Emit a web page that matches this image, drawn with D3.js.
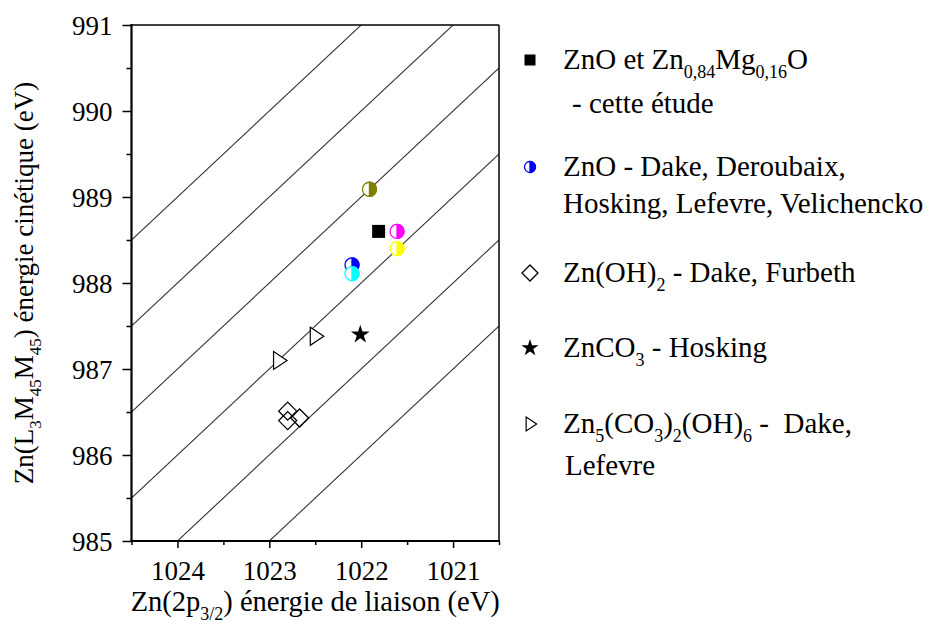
<!DOCTYPE html>
<html><head><meta charset="utf-8">
<script src="https://cdn.jsdelivr.net/npm/d3@7"></script>
<style>body{margin:0;background:#fff}svg{display:block}svg text{font-family:'Liberation Serif','Tinos','DejaVu Serif',serif !important;fill:#000}</style>
</head><body><svg id="c" width="930" height="626"></svg>
<script>
// ---- data ----
const xTicks = [1024, 1023, 1022, 1021];
const yTicks = [985, 986, 987, 988, 989, 990, 991];
const augerSums = [2008, 2009, 2010, 2011, 2012, 2013];
// this study
const oursBE = [1021.81];
const oursKE = [988.60];
// ZnO literature (half-filled circles)
const znoBE = [1021.91, 1021.61, 1021.61, 1022.10, 1022.10];
const znoKE = [989.09, 988.60, 988.40, 988.21, 988.11];
const znoColors = ["#808000", "#ff00ff", "#ffff00", "#0000ff", "#00ffff"];
// Zn(OH)2
const hydBE = [1022.80, 1022.80, 1022.67];
const hydKE = [986.51, 986.40, 986.43];
// ZnCO3
const carbBE = [1022.01];
const carbKE = [987.40];
// Zn5(CO3)2(OH)6
const hzBE = [1022.90, 1022.50];
const hzKE = [987.10, 987.38];

const svg = d3.select("#c");
const L = 131.5, R = 499, T = 25, B = 541;
const x = d3.scaleLinear().domain([1024.5, 1020.5]).range([L, R]);
const y = d3.scaleLinear().domain([985, 991]).range([B, T]);

svg.append("clipPath").attr("id","pc").append("rect").attr("x",L).attr("y",T).attr("width",R-L).attr("height",B-T);

// auger parameter lines
const gl = svg.append("g").attr("clip-path","url(#pc)");
augerSums.forEach(s => {
  const b0 = 1025, b1 = 1020;
  gl.append("line").attr("x1",x(b0)).attr("y1",y(s-b0)).attr("x2",x(b1)).attr("y2",y(s-b1))
    .attr("stroke","#333").attr("stroke-width",1.1);
});

// axes
const fs = 27;
const xAxis = d3.axisBottom(x).tickValues(xTicks).tickFormat(d3.format("d")).tickSize(7).tickPadding(13);
const gx = svg.append("g").attr("transform",`translate(0,${B})`).call(xAxis);
const xMinor = d3.axisBottom(x).tickValues([1024.5,1023.5,1022.5,1021.5,1020.5]).tickFormat("").tickSize(4);
svg.append("g").attr("transform",`translate(0,${B})`).call(xMinor);
const yAxis = d3.axisLeft(y).tickValues(yTicks).tickFormat(d3.format("d")).tickSize(9).tickPadding(10);
const gy = svg.append("g").attr("transform",`translate(${L},0)`).call(yAxis);
gy.selectAll("text").attr("dy","0.34em");
const yMinor = d3.axisLeft(y).tickValues([985.5,986.5,987.5,988.5,989.5,990.5]).tickFormat("").tickSize(5);
svg.append("g").attr("transform",`translate(${L},0)`).call(yMinor);
svg.selectAll("g").attr("font-family",null).attr("font-size",null);
svg.selectAll(".tick text").style("font-size",fs+"px");
svg.selectAll(".domain").remove();
svg.selectAll(".tick line").attr("stroke","#000").attr("stroke-width",1.5);
// frame
svg.append("line").attr("x1",L).attr("x2",R).attr("y1",T).attr("y2",T).attr("stroke","#000").attr("stroke-width",1.5);
svg.append("line").attr("x1",R).attr("x2",R).attr("y1",T).attr("y2",B).attr("stroke","#000").attr("stroke-width",1.5);
svg.append("line").attr("x1",L).attr("x2",L).attr("y1",T-1).attr("y2",B+1).attr("stroke","#000").attr("stroke-width",2.2);
svg.append("line").attr("x1",L-1).attr("x2",R+1).attr("y1",B).attr("y2",B).attr("stroke","#000").attr("stroke-width",2.2);

// rich text helper
function rich(sel, segs, size){
  const sub = Math.round(size*0.62), sh = Math.round(size*0.3);
  let shifted = false;
  segs.forEach(([t, isSub]) => {
    const ts = sel.append("tspan").text(t);
    if (isSub && !shifted){ ts.attr("dy",sh).style("font-size",sub+"px"); shifted = true; }
    else if (isSub) { ts.style("font-size",sub+"px"); }
    else if (!isSub && shifted){ ts.attr("dy",-sh); shifted = false; }
  });
}

// axis titles
const xt = svg.append("text").attr("x",(L+R)/2).attr("y",611).attr("text-anchor","middle").style("font-size","28.5px");
rich(xt, [["Zn(2p"],["3/2",1],[") énergie de liaison (eV)"]], 28.5);
const yt = svg.append("text").attr("transform",`translate(33,${(T+B)/2}) rotate(-90)`).attr("text-anchor","middle").style("font-size","27px");
rich(yt, [["Zn(L"],["3",1],["M"],["45",1],["M"],["45",1],[") énergie cinétique (eV)"]], 27);

// markers
const mk = svg.append("g");
function halfCircle(g, cx, cy, r, col){
  g.append("circle").attr("cx",cx).attr("cy",cy).attr("r",r).attr("fill","#fff").attr("stroke",col).attr("stroke-width",1.3);
  g.append("path").attr("d",`M${cx},${cy-r} A${r},${r} 0 0 1 ${cx},${cy+r} Z`).attr("fill",col).attr("stroke",col).attr("stroke-width",1.3);
}
function diamond(g,cx,cy,r){
  g.append("path").attr("d",`M${cx},${cy-r} L${cx+r},${cy} L${cx},${cy+r} L${cx-r},${cy} Z`).attr("fill","none").attr("stroke","#000").attr("stroke-width",1.3);
}
function tri(g,cx,cy,r){
  g.append("path").attr("d",`M${cx-r*0.55},${cy-r} L${cx+r*0.95},${cy} L${cx-r*0.55},${cy+r} Z`).attr("fill","#fff").attr("stroke","#000").attr("stroke-width",1.2);
}
function star(g,cx,cy,r){
  g.append("path").attr("d",d3.symbol(d3.symbolStar, r*r*2.2)()).attr("transform",`translate(${cx},${cy})`).attr("fill","#000");
}
function square(g,cx,cy,s){
  g.append("rect").attr("x",cx-s/2).attr("y",cy-s/2).attr("width",s).attr("height",s).attr("fill","#000");
}
hydBE.forEach((b,i)=>diamond(mk,x(b),y(hydKE[i]),9));
hzBE.forEach((b,i)=>tri(mk,x(b),y(hzKE[i]),9));
carbBE.forEach((b,i)=>star(mk,x(b),y(carbKE[i]),7));
oursBE.forEach((b,i)=>square(mk,x(b),y(oursKE[i]),13));
znoBE.forEach((b,i)=>halfCircle(mk,x(b),y(znoKE[i]),7,znoColors[i]));

// legend
const lfs = 29;
const legendLines = [
  {y:69, x:563, segs:[["ZnO et Zn"],["0,84",1],["Mg"],["0,16",1],["O"]]},
  {y:113, x:572, segs:[["- cette étude"]]},
  {y:176, x:563, segs:[["ZnO - Dake, Deroubaix,"]]},
  {y:213, x:563, segs:[["Hosking, Lefevre, Velichencko"]]},
  {y:282, x:563, segs:[["Zn(OH)"],["2",1],[" - Dake, Furbeth"]]},
  {y:357, x:563, segs:[["ZnCO"],["3",1],[" - Hosking"]]},
  {y:433, x:563, segs:[["Zn"],["5",1],["(CO"],["3",1],[")"],["2",1],["(OH)"],["6",1],[" -  Dake,"]]},
  {y:475, x:565, segs:[["Lefevre"]]}
];
const lg = svg.append("g");
legendLines.forEach(l=>{
  const t = lg.append("text").attr("x",l.x).attr("y",l.y).style("font-size",lfs+"px").style("white-space","pre");
  rich(t, l.segs, lfs);
});
square(lg,530,60,11);
halfCircle(lg,530,167,5.5,"#0000ff");
diamond(lg,530,273,8);
star(lg,530,348,6.5);
tri(lg,530,424,7);
</script></body></html>
